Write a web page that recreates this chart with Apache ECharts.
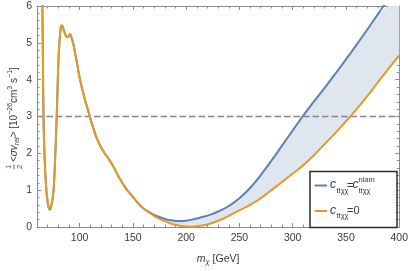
<!DOCTYPE html>
<html><head><meta charset="utf-8">
<script src="https://cdn.jsdelivr.net/npm/echarts@6/dist/echarts.min.js"></script>
<style>html,body{margin:0;padding:0;background:#fff}#c{width:411px;height:271px}</style>
</head><body><div id="c"></div>
<script>
// ---- data ----
const mass = [63.8, 64.5, 65.0, 65.5, 66.1, 67.0, 68.0, 69.0, 70.0, 71.0, 72.0, 73.0, 74.0, 75.0, 76.0, 77.0, 78.0, 79.0, 80.0, 81.0, 82.0, 83.0, 84.0, 85.0, 86.0, 87.0, 88.0, 89.0, 90.0, 91.0, 92.0, 94.0, 96.0, 98.0, 100, 104, 108, 112, 116, 120, 124, 128, 132, 136, 140, 145, 150, 155, 160, 165, 170, 175, 180, 185, 190, 195, 200, 205, 210, 215, 220, 230, 240, 250, 260, 270, 280, 290, 300, 310, 320, 330, 340, 350, 360, 370, 380, 390, 400];
const sigmaZero = [8.0, 7.0, 6.0, 4.7, 3.0, 2.0, 1.35, 0.95, 0.7, 0.55, 0.5, 0.55, 0.68, 0.85, 1.2, 1.85, 2.6, 3.45, 4.45, 5.0, 5.33, 5.47, 5.45, 5.35, 5.27, 5.2, 5.16, 5.16, 5.2, 5.23, 5.18, 4.98, 4.68, 4.38, 4.06, 3.56, 3.16, 2.76, 2.42, 2.17, 1.98, 1.82, 1.62, 1.40, 1.20, 0.99, 0.82, 0.64, 0.5, 0.4, 0.3, 0.22, 0.16, 0.1, 0.06, 0.03, 0.015, 0.01, 0.02, 0.04, 0.07, 0.17, 0.3, 0.45, 0.6, 0.78, 1.0, 1.22, 1.45, 1.68, 1.95, 2.25, 2.55, 2.87, 3.2, 3.55, 3.93, 4.3, 4.66];
const sigmaNlam = [8.0, 7.0, 6.0, 4.7, 3.0, 2.0, 1.33, 0.92, 0.67, 0.52, 0.47, 0.52, 0.66, 0.85, 1.2, 1.85, 2.6, 3.45, 4.45, 5.0, 5.33, 5.47, 5.45, 5.35, 5.27, 5.2, 5.16, 5.16, 5.2, 5.23, 5.18, 4.98, 4.68, 4.38, 4.06, 3.56, 3.16, 2.76, 2.42, 2.17, 1.98, 1.82, 1.62, 1.40, 1.20, 0.99, 0.82, 0.64, 0.5, 0.41, 0.33, 0.27, 0.22, 0.185, 0.165, 0.16, 0.17, 0.2, 0.23, 0.27, 0.31, 0.42, 0.57, 0.78, 1.06, 1.41, 1.8, 2.21, 2.62, 3.03, 3.41, 3.78, 4.16, 4.55, 4.95, 5.36, 5.78, 6.2, 6.63];
const bandFrom = 160;
const threshold = 3;
const xRange = [60, 400];
const yRange = [0, 6];
const xMajorTicks = [100, 150, 200, 250, 300, 350, 400];
const xMinorTicks = [70, 80, 90, 110, 120, 130, 140, 160, 170, 180, 190, 210, 220, 230, 240, 260, 270, 280, 290, 310, 320, 330, 340, 360, 370, 380, 390];

// ---- styling ----
const FONT = '"Liberation Sans", Arial, sans-serif';
const BLUE = '#5E81B5', ORANGE = '#E19C24', FILL = '#dfe6f0', FRAME = '#8c8c8c', TXT = '#3a3a3a';

const orangePts = mass.map((m, i) => [m, sigmaZero[i]]);
const bluePts = mass.map((m, i) => [m, sigmaNlam[i]]);
const bandLow = orangePts.filter(p => p[0] >= bandFrom);
const bandHigh = bluePts.filter(p => p[0] >= bandFrom);

function xAx(pos, ticks, len, labels, line) {
  return {
    type: 'value', position: pos, min: xRange[0], max: xRange[1],
    axisLine: { show: line, onZero: false, lineStyle: { color: FRAME, width: 1 } },
    axisTick: { show: true, inside: true, length: len, customValues: ticks, lineStyle: { color: FRAME } },
    axisLabel: labels ? { show: true, customValues: ticks, margin: 6, color: TXT, fontSize: 10.5, fontFamily: FONT } : { show: false },
    splitLine: { show: false }
  };
}
function yAx(pos, labels) {
  return {
    type: 'value', position: pos, min: yRange[0], max: yRange[1], interval: 1,
    axisLine: { show: true, onZero: false, lineStyle: { color: FRAME, width: 1 } },
    axisTick: { show: true, inside: true, length: 4, lineStyle: { color: FRAME } },
    minorTick: { show: true, splitNumber: 5, length: 2.5, lineStyle: { color: FRAME } },
    axisLabel: labels ? { show: true, margin: 5, color: TXT, fontSize: 10.5, fontFamily: FONT } : { show: false },
    splitLine: { show: false }, minorSplitLine: { show: false }
  };
}

const xAxes = [xAx('bottom', xMajorTicks, 4, true, true), xAx('bottom', xMinorTicks, 2.5, false, false),
               xAx('top', xMajorTicks, 4, false, true), xAx('top', xMinorTicks, 2.5, false, false)];
xAxes[0].name = '{i|m}{s|χ} [GeV]';
xAxes[0].nameLocation = 'middle';
xAxes[0].nameGap = 25;
xAxes[0].nameTextStyle = { color: TXT, fontSize: 10.5, fontFamily: FONT,
  rich: { i: { fontStyle: 'italic', fontSize: 10.5, fontFamily: FONT, color: TXT, lineHeight: 14, verticalAlign: 'middle' },
          s: { fontStyle: 'italic', fontSize: 7.5, fontFamily: FONT, color: TXT, verticalAlign: 'bottom', lineHeight: 14 } } };

function T(x, y, text, size, italic, extra) {
  return Object.assign({ type: 'text', x: x, y: y, z: 100,
    style: { text: text, fontSize: size, fontFamily: FONT, fontStyle: italic ? 'italic' : 'normal', fill: TXT, verticalAlign: 'middle', align: 'left' } }, extra || {});
}

const legendGraphics = [
  { type: 'rect', shape: { x: 310, y: 171.5, width: 87, height: 56 }, z: 99,
    style: { fill: '#fff', stroke: '#2e2e2e', lineWidth: 1.5 } },
  { type: 'line', shape: { x1: 314.5, y1: 185.5, x2: 327, y2: 185.5 }, z: 100, style: { stroke: BLUE, lineWidth: 2 } },
  { type: 'line', shape: { x1: 314.5, y1: 211, x2: 327, y2: 211 }, z: 100, style: { stroke: ORANGE, lineWidth: 2 } },
  T(330, 185, 'c', 12, true), T(336.5, 190.5, 'ttχχ', 7.5, false), T(347, 185.5, '=', 11, false),
  T(352.5, 185, 'c', 12, true), T(358.5, 180, 'nlam', 7.5, false), T(358.5, 190.5, 'ttχχ', 7.5, false),
  T(330, 210.5, 'c', 12, true), T(336.5, 216, 'ttχχ', 7.5, false), T(347, 211, '=0', 11, false)
];

const ylabRich = {
  n: { fontSize: 10, fontFamily: FONT, color: TXT, lineHeight: 14, verticalAlign: 'middle' },
  it: { fontSize: 10, fontFamily: FONT, fontStyle: 'italic', color: TXT, lineHeight: 14, verticalAlign: 'middle' },
  sub: { fontSize: 7, fontFamily: FONT, fontStyle: 'italic', color: TXT, lineHeight: 14, verticalAlign: 'bottom' },
  sup: { fontSize: 7, fontFamily: FONT, color: TXT, lineHeight: 14, verticalAlign: 'top' }
};
const yLabel = {
  type: 'group', x: 14, y: 118, rotation: Math.PI / 2, z: 100,
  children: [
    { type: 'text', x: -49, y: -5.5, style: { text: '1', fontSize: 7.5, fontFamily: FONT, fill: TXT, align: 'center', verticalAlign: 'middle' } },
    { type: 'line', shape: { x1: -51.5, y1: 0, x2: -46.5, y2: 0 }, style: { stroke: TXT, lineWidth: 0.8 } },
    { type: 'text', x: -49, y: 6, style: { text: '2', fontSize: 7.5, fontFamily: FONT, fill: TXT, align: 'center', verticalAlign: 'middle' } },
    { type: 'text', x: -44, y: 0, style: { text: '{n|<}{it|σv}{sub|rel}{n|> [10}{sup|−26}{n|cm}{sup|3}{n| s}{sup|−1}{n|]}',
        rich: ylabRich, fontSize: 10, fontFamily: FONT, fill: TXT, align: 'left', verticalAlign: 'middle' } }
  ]
};

const chart = echarts.init(document.getElementById('c'), null, { renderer: 'canvas' });
chart.setOption({
  animation: false,
  backgroundColor: '#fff',
  grid: { left: 37, right: 10.5, top: 6, bottom: 40, containLabel: false },
  xAxis: xAxes,
  yAxis: [yAx('left', true), yAx('right', false)],
  series: [
    { type: 'custom', data: [0], silent: true, clip: true, z: 1,
      renderItem: function (params, api) {
        const pts = bandHigh.map(p => api.coord(p)).concat(bandLow.slice().reverse().map(p => api.coord(p)));
        const cs = params.coordSys;
        const clipped = echarts.graphic.clipPointsByRect(pts, { x: cs.x, y: cs.y, width: cs.width, height: cs.height });
        return { type: 'polygon', shape: { points: clipped }, style: { fill: FILL, stroke: null } };
      } },
    { type: 'line', data: [[xRange[0], threshold], [xRange[1], threshold]], symbol: 'none', silent: true,
      lineStyle: { color: '#858585', width: 1.7, type: [6.5, 3] }, z: 2 },
    { type: 'line', data: bluePts, smooth: true, symbol: 'none', lineStyle: { color: BLUE, width: 2 }, z: 3 },
    { type: 'line', data: orangePts, smooth: true, symbol: 'none', lineStyle: { color: ORANGE, width: 2 }, z: 4 }
  ],
  graphic: legendGraphics.concat([yLabel])
});
</script></body></html>
